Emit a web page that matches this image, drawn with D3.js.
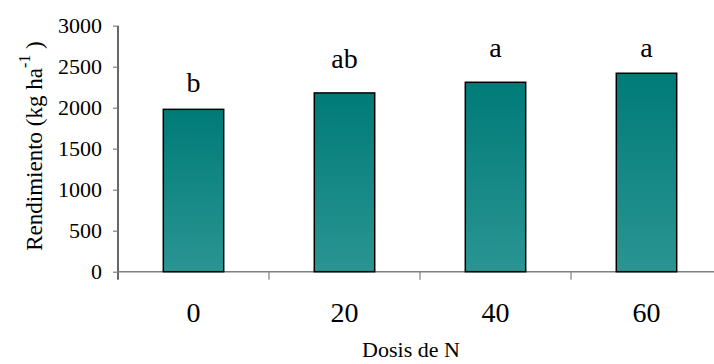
<!DOCTYPE html>
<html>
<head>
<meta charset="utf-8">
<script src="https://cdn.jsdelivr.net/npm/d3@7"></script>
<style>
  body { margin: 0; background: #fff; }
  svg { display: block; }
  svg text { font-family: 'Liberation Serif', serif; fill: #000; }
</style>
</head>
<body>
<div id="chart"></div>
<script>
// data
var doses = ['0', '20', '40', '60'];
var yieldKg = [1980, 2180, 2310, 2420];
var letters = ['b', 'ab', 'a', 'a'];
var letterAt = [2195, 2480, 2620, 2620]; // baseline of the letter, in kg/ha
var yTicks = [0, 500, 1000, 1500, 2000, 2500, 3000];

var width = 714, height = 364;
var plotLeft = 118, plotRight = 722, plotTop = 25.7, plotBottom = 271.7;
var serif = "'Liberation Serif', serif";

var svg = d3.select('#chart').append('svg')
  .attr('width', width)
  .attr('height', height);

var grad = svg.append('defs').append('linearGradient')
  .attr('id', 'barFill')
  .attr('x1', 0).attr('y1', 0).attr('x2', 0).attr('y2', 1);
grad.append('stop').attr('offset', '0%').attr('stop-color', '#007b78');
grad.append('stop').attr('offset', '100%').attr('stop-color', '#2a9592');

var x = d3.scaleBand().domain(doses).range([plotLeft, plotRight])
  .paddingInner(0.6).paddingOuter(0.3);
var y = d3.scaleLinear().domain([0, 3000]).range([plotBottom, plotTop]);
var step = x.step();

// y axis
var yAxis = svg.append('g')
  .attr('transform', 'translate(' + plotLeft + ',0)')
  .attr('font-family', serif)
  .call(d3.axisLeft(y).tickValues(yTicks).tickFormat(d3.format('d'))
    .tickSize(5).tickPadding(11));
yAxis.select('.domain').attr('stroke', '#000').attr('stroke-width', 1.2)
  .attr('d', 'M0,' + plotTop + 'V' + (plotBottom + 8));
yAxis.selectAll('.tick line').attr('stroke', '#808080').attr('stroke-width', 1.2);
yAxis.selectAll('.tick text')
  .style('font-size', '22px')
  .style('font-family', serif)
  .attr('dy', '0.33em');

// x axis (ticks between categories)
var bounds = doses.map(function (d) { return x(d) - x.paddingOuter() * step; });
bounds.push(plotRight);
var xAxis = svg.append('g');
xAxis.append('line')
  .attr('x1', plotLeft).attr('x2', plotRight)
  .attr('y1', plotBottom).attr('y2', plotBottom)
  .attr('stroke', '#808080').attr('stroke-width', 1.5);
xAxis.selectAll('.xtick').data(bounds.slice(1)).enter()
  .append('line')
  .attr('class', 'xtick')
  .attr('x1', function (d) { return d; }).attr('x2', function (d) { return d; })
  .attr('y1', plotBottom).attr('y2', plotBottom + 8)
  .attr('stroke', '#808080').attr('stroke-width', 1.2);
xAxis.selectAll('.xlabel').data(doses).enter()
  .append('text')
  .attr('class', 'xlabel')
  .attr('x', function (d) { return x(d) + x.bandwidth() / 2; })
  .attr('y', 322)
  .attr('text-anchor', 'middle')
  .style('font-family', serif)
  .style('font-size', '28px')
  .text(function (d) { return d; });

// bars
svg.selectAll('.bar').data(yieldKg).enter()
  .append('rect')
  .attr('class', 'bar')
  .attr('x', function (d, i) { return x(doses[i]); })
  .attr('y', function (d) { return y(d); })
  .attr('width', x.bandwidth())
  .attr('height', function (d) { return y(0) - y(d); })
  .attr('fill', 'url(#barFill)')
  .attr('stroke', '#000')
  .attr('stroke-width', 1.5);

// significance letters
svg.selectAll('.letter').data(letters).enter()
  .append('text')
  .attr('class', 'letter')
  .attr('x', function (d, i) { return x(doses[i]) + x.bandwidth() / 2; })
  .attr('y', function (d, i) { return y(letterAt[i]); })
  .attr('text-anchor', 'middle')
  .style('font-family', serif)
  .style('font-size', '28px')
  .text(function (d) { return d; });

// axis titles
var yt = svg.append('text')
  .attr('transform', 'translate(42,146) rotate(-90)')
  .attr('text-anchor', 'middle')
  .style('font-family', serif)
  .style('font-size', '23px');
yt.append('tspan').text('Rendimiento (kg ha');
yt.append('tspan').attr('dy', -12).style('font-size', '16px').text('-1');
yt.append('tspan').attr('dy', 12).text(' )');

svg.append('text')
  .attr('x', 411)
  .attr('y', 357)
  .attr('text-anchor', 'middle')
  .style('font-family', serif)
  .style('font-size', '22px')
  .text('Dosis de N');
</script>
</body>
</html>
